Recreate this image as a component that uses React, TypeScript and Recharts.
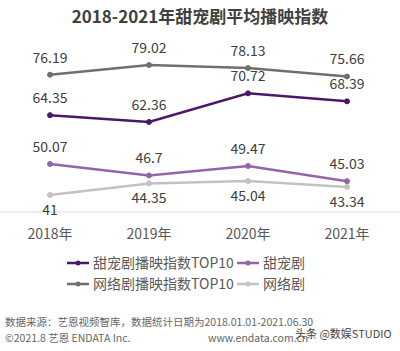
import { LabelList, Line, LineChart, XAxis, YAxis } from 'recharts';

const years = ['2018年', '2019年', '2020年', '2021年'];
const sweetTop10 = [64.35, 62.36, 70.72, 68.39];
const sweetAll = [50.07, 46.7, 49.47, 45.03];
const webTop10 = [76.19, 79.02, 78.13, 75.66];
const webAll = [41, 44.35, 45.04, 43.34];

const SERIES = [
  { key: 'sweetTop10', name: '甜宠剧播映指数TOP10', color: '#4d1769', below: false },
  { key: 'sweetAll', name: '甜宠剧', color: '#9466a8', below: false },
  { key: 'webTop10', name: '网络剧播映指数TOP10', color: '#6f6f6f', below: false },
  { key: 'webAll', name: '网络剧', color: '#c2c2c2', below: true },
];

const FONT = '"Noto Sans CJK SC", "Noto Sans", sans-serif';

const data = years.map((year, i) => ({
  year,
  sweetTop10: sweetTop10[i],
  sweetAll: sweetAll[i],
  webTop10: webTop10[i],
  webAll: webAll[i],
}));

function LegendItem({ color, name, width }: { color: string; name: string; width: number }) {
  return (
    <div style={{ display: 'flex', alignItems: 'center', width }}>
      <svg width={24} height={10} style={{ marginRight: 3 }}>
        <line x1={1} y1={5} x2={23} y2={5} stroke={color} strokeWidth={2.5} />
        <circle cx={12} cy={5} r={2.5} fill={color} />
      </svg>
      <span>{name}</span>
    </div>
  );
}

export default function App() {
  return (
    <div
      style={{
        position: 'absolute',
        left: 0,
        top: 0,
        width: 400,
        height: 351,
        background: '#fff',
        fontFamily: FONT,
        color: '#595959',
      }}
    >
      <div
        style={{
          position: 'absolute',
          top: 3,
          width: 400,
          textAlign: 'center',
          fontSize: 17,
          fontWeight: 'bold',
          color: '#404040',
        }}
      >
        2018-2021年甜宠剧平均播映指数
      </div>
      <LineChart
        width={400}
        height={245}
        data={data}
        margin={{ top: 48, right: 0, bottom: 3, left: 0 }}
        style={{ position: 'absolute', top: 0, left: 0 }}
      >
        <XAxis
          dataKey="year"
          padding={{ left: 50, right: 53 }}
          axisLine={{ stroke: '#d9d9d9' }}
          tickLine={false}
          tickMargin={11}
          height={30}
          tick={{ fill: '#595959', fontSize: 14, fontFamily: FONT }}
        />
        <YAxis hide width={0} domain={[36, 84]} />
        {SERIES.map((s) => (
          <Line
            key={s.key}
            dataKey={s.key}
            name={s.name}
            stroke={s.color}
            strokeWidth={2.5}
            dot={{ r: 2.5, fill: s.color, stroke: s.color, strokeWidth: 1 }}
            isAnimationActive={false}
          >
            <LabelList
              dataKey={s.key}
              position={s.below ? 'bottom' : 'top'}
              offset={s.below ? 10 : 12}
              fill="#404040"
              fontSize={14}
              fontFamily={FONT}
            />
          </Line>
        ))}
      </LineChart>
      <div style={{ position: 'absolute', top: 252, left: 66, fontSize: 14, lineHeight: '21px' }}>
        <div style={{ display: 'flex' }}>
          <LegendItem color={SERIES[0].color} name={SERIES[0].name} width={170} />
          <LegendItem color={SERIES[1].color} name={SERIES[1].name} width={80} />
        </div>
        <div style={{ display: 'flex' }}>
          <LegendItem color={SERIES[2].color} name={SERIES[2].name} width={170} />
          <LegendItem color={SERIES[3].color} name={SERIES[3].name} width={80} />
        </div>
      </div>
      <div style={{ position: 'absolute', top: 314, left: 5, fontSize: 10.5, color: '#666' }}>
        数据来源：艺恩视频智库，数据统计日期为2018.01.01-2021.06.30
      </div>
      <div style={{ position: 'absolute', top: 330, left: 5, fontSize: 10.5, color: '#666' }}>
        ©2021.8 艺恩 ENDATA Inc.
      </div>
      <div style={{ position: 'absolute', top: 330, left: 208, fontSize: 10.5, color: '#666' }}>
        www.endata.com.cn
      </div>
      <div style={{ position: 'absolute', top: 325, left: 295, fontSize: 11, color: '#444' }}>
        头条 @数娱STUDIO
      </div>
    </div>
  );
}
